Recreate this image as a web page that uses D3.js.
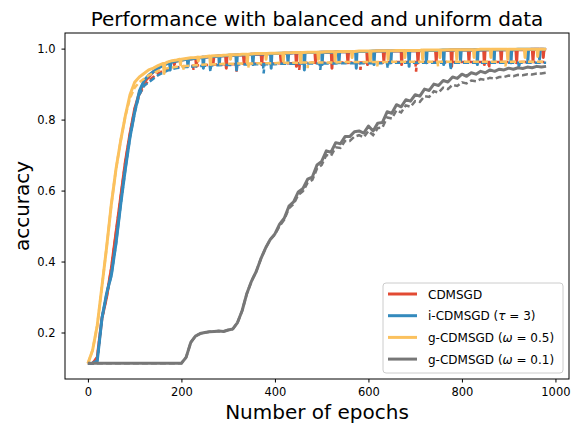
<!DOCTYPE html>
<html>
<head>
<meta charset="utf-8">
<script src="https://cdn.jsdelivr.net/npm/d3@7"></script>
<style>
  body { margin: 0; background: #fff; }
  svg text { font-family: "DejaVu Sans", sans-serif; fill: #000; }
</style>
</head>
<body>
<div id="chart"></div>
<script>
// epochs sampled every 10
var epochs = d3.range(0, 990, 10);

// training accuracy (solid lines)
var cdmsgdTrain = [0.113,0.113,0.13,0.24,0.30,0.38,0.48,0.58,0.68,0.76,
  0.83,0.875,0.905,0.92,0.935,0.945,0.955,0.96,0.963,0.965,
  0.968,0.970,0.971,0.973,0.975,0.976,0.977,0.978,0.979,0.980,
  0.980,0.981,0.982,0.982,0.983,0.984,0.984,0.985,0.985,0.986,
  0.986,0.986,0.987,0.987,0.988,0.988,0.988,0.989,0.989,0.989,
  0.990,0.990,0.990,0.991,0.991,0.991,0.991,0.992,0.992,0.992,
  0.992,0.992,0.993,0.993,0.993,0.993,0.993,0.994,0.994,0.994,
  0.994,0.994,0.995,0.995,0.995,0.995,0.995,0.995,0.996,0.996,
  0.996,0.996,0.996,0.996,0.996,0.997,0.997,0.997,0.997,0.997,
  0.997,0.997,0.997,0.997,0.997,0.998,0.998,0.998,0.996];
var iTrain = [0.113,0.113,0.12,0.24,0.31,0.36,0.45,0.56,0.66,0.75,
  0.82,0.88,0.91,0.925,0.935,0.945,0.952,0.958,0.962,0.965,
  0.967,0.970,0.971,0.973,0.974,0.976,0.977,0.978,0.979,0.980,
  0.981,0.981,0.982,0.983,0.983,0.984,0.985,0.985,0.985,0.986,
  0.986,0.987,0.987,0.987,0.988,0.988,0.988,0.989,0.989,0.989,
  0.990,0.990,0.990,0.990,0.991,0.991,0.991,0.992,0.992,0.992,
  0.992,0.993,0.993,0.993,0.993,0.993,0.994,0.994,0.994,0.994,
  0.994,0.995,0.995,0.995,0.995,0.995,0.996,0.996,0.996,0.996,
  0.996,0.996,0.996,0.997,0.996,0.997,0.997,0.997,0.997,0.997,
  0.997,0.997,0.998,0.998,0.998,0.998,0.998,0.998,0.998];
var g05Train = [0.113,0.15,0.22,0.33,0.44,0.56,0.66,0.74,0.81,0.87,
  0.905,0.92,0.93,0.94,0.945,0.952,0.958,0.962,0.966,0.968,
  0.970,0.972,0.974,0.975,0.976,0.977,0.979,0.980,0.980,0.981,
  0.982,0.983,0.983,0.984,0.984,0.985,0.986,0.986,0.986,0.987,
  0.987,0.987,0.988,0.988,0.989,0.989,0.989,0.990,0.990,0.990,
  0.990,0.991,0.991,0.991,0.992,0.992,0.992,0.992,0.993,0.993,
  0.993,0.993,0.994,0.994,0.994,0.994,0.995,0.995,0.995,0.995,
  0.995,0.995,0.996,0.996,0.996,0.996,0.996,0.997,0.997,0.997,
  0.997,0.997,0.997,0.997,0.998,0.998,0.998,0.998,0.998,0.998,
  0.998,0.998,0.998,0.998,0.998,0.998,0.998,0.998,0.998];
var g01Train = [0.1135,0.1135,0.1135,0.1135,0.1135,0.1135,0.1135,0.1135,0.1135,0.1135,
  0.1135,0.1135,0.1135,0.1135,0.1135,0.1135,0.1135,0.1135,0.1135,0.1135,
  0.1135,0.13,0.172,0.19,0.197,0.200,0.202,0.203,0.204,0.203,
  0.207,0.210,0.228,0.262,0.310,0.345,0.372,0.408,0.438,0.462,
  0.478,0.505,0.522,0.556,0.568,0.596,0.606,0.632,0.638,0.672,
  0.682,0.712,0.708,0.735,0.732,0.752,0.752,0.766,0.768,0.762,
  0.782,0.768,0.790,0.792,0.822,0.818,0.842,0.836,0.856,0.852,
  0.870,0.866,0.886,0.882,0.900,0.896,0.910,0.906,0.920,0.916,
  0.928,0.922,0.932,0.928,0.936,0.932,0.940,0.936,0.942,0.940,
  0.945,0.942,0.946,0.944,0.948,0.946,0.950,0.948,0.950];

// test accuracy (dashed lines)
var cdmsgdTest = [0.113,0.113,0.13,0.24,0.30,0.38,0.48,0.58,0.68,0.76,
  0.83,0.87,0.895,0.91,0.92,0.93,0.937,0.942,0.945,0.947,
  0.949,0.950,0.951,0.952,0.953,0.954,0.954,0.955,0.955,0.956,
  0.956,0.956,0.957,0.957,0.957,0.957,0.958,0.958,0.958,0.958,
  0.958,0.959,0.959,0.959,0.959,0.959,0.960,0.960,0.960,0.960,
  0.960,0.960,0.960,0.960,0.961,0.961,0.961,0.961,0.961,0.961,
  0.961,0.961,0.961,0.961,0.961,0.962,0.962,0.962,0.962,0.962,
  0.962,0.962,0.962,0.962,0.962,0.962,0.962,0.962,0.962,0.962,
  0.962,0.962,0.962,0.962,0.962,0.962,0.962,0.962,0.962,0.962,
  0.962,0.962,0.962,0.962,0.962,0.962,0.962,0.962,0.962];
var iTest = [0.113,0.113,0.12,0.24,0.31,0.36,0.45,0.56,0.66,0.75,
  0.82,0.87,0.895,0.905,0.915,0.925,0.932,0.938,0.942,0.945,
  0.947,0.948,0.949,0.950,0.951,0.952,0.952,0.953,0.953,0.954,
  0.954,0.954,0.955,0.955,0.955,0.955,0.956,0.956,0.956,0.956,
  0.956,0.957,0.957,0.957,0.957,0.957,0.958,0.958,0.958,0.958,
  0.958,0.958,0.958,0.958,0.959,0.959,0.959,0.959,0.959,0.959,
  0.959,0.959,0.959,0.959,0.959,0.960,0.960,0.960,0.960,0.960,
  0.960,0.960,0.960,0.960,0.960,0.960,0.960,0.960,0.960,0.960,
  0.960,0.960,0.960,0.960,0.960,0.960,0.960,0.960,0.960,0.960,
  0.960,0.960,0.960,0.960,0.960,0.960,0.960,0.960,0.960];
var g05Test = [0.113,0.15,0.22,0.33,0.44,0.56,0.66,0.74,0.81,0.86,
  0.89,0.905,0.915,0.925,0.93,0.937,0.942,0.945,0.947,0.949,
  0.950,0.951,0.952,0.953,0.954,0.955,0.955,0.956,0.956,0.957,
  0.957,0.957,0.958,0.958,0.958,0.958,0.959,0.959,0.959,0.959,
  0.959,0.960,0.960,0.960,0.960,0.960,0.961,0.961,0.961,0.961,
  0.961,0.961,0.961,0.961,0.962,0.962,0.962,0.962,0.962,0.962,
  0.962,0.962,0.962,0.962,0.962,0.963,0.963,0.963,0.963,0.963,
  0.963,0.963,0.963,0.963,0.963,0.963,0.963,0.963,0.963,0.963,
  0.963,0.963,0.963,0.963,0.963,0.963,0.963,0.963,0.963,0.963,
  0.963,0.963,0.963,0.963,0.963,0.963,0.963,0.963,0.963];
var g01Test = [0.1135,0.1135,0.1135,0.1135,0.1135,0.1135,0.1135,0.1135,0.1135,0.1135,
  0.1135,0.1135,0.1135,0.1135,0.1135,0.1135,0.1135,0.1135,0.1135,0.1135,
  0.1135,0.13,0.172,0.19,0.197,0.200,0.202,0.203,0.204,0.203,
  0.207,0.210,0.228,0.262,0.310,0.345,0.372,0.408,0.438,0.462,
  0.476,0.500,0.518,0.550,0.562,0.588,0.598,0.622,0.630,0.662,
  0.672,0.700,0.698,0.722,0.720,0.740,0.740,0.752,0.756,0.750,
  0.768,0.756,0.776,0.778,0.806,0.803,0.826,0.820,0.840,0.836,
  0.852,0.850,0.866,0.864,0.880,0.876,0.890,0.886,0.898,0.895,
  0.905,0.902,0.910,0.908,0.914,0.912,0.918,0.915,0.920,0.920,
  0.924,0.922,0.926,0.925,0.928,0.927,0.930,0.930,0.932];

// sharp single-epoch drops: [epoch, accuracy]
var cdmsgdTrainDips = [[185,0.955],[232,0.95],[268,0.96],[296,0.945],[334,0.96],[372,0.955],[413,0.965],[446,0.95],
  [487,0.96],[522,0.945],[556,0.96],[598,0.955],[633,0.965],[671,0.955],[706,0.96],[745,0.965],[778,0.95],
  [815,0.965],[848,0.955],[884,0.965],[917,0.96],[952,0.965],[974,0.975]];
var iTrainDips = [[176,0.94],[214,0.95],[247,0.945],[281,0.955],[318,0.94],[353,0.955],[392,0.945],[428,0.96],
  [463,0.94],[501,0.955],[537,0.96],[574,0.945],[612,0.955],[648,0.96],[687,0.95],[724,0.96],[761,0.955],
  [797,0.965],[833,0.955],[869,0.965],[905,0.96],[941,0.965],[966,0.97]];
var g05TrainDips = [[163,0.93],[198,0.955],[236,0.965],[262,0.955],[305,0.97],[341,0.96],[381,0.97],[418,0.965],
  [455,0.96],[493,0.97],[529,0.965],[565,0.975],[604,0.965],[642,0.97],[678,0.975],[716,0.97],[753,0.975],
  [789,0.97],[826,0.975],[862,0.975],[898,0.97],[935,0.975],[962,0.978]];
var cdmsgdTestDips = [[226,0.94],[318,0.935],[452,0.94],[583,0.94],[702,0.935],[858,0.945]];
var iTestDips = [[262,0.935],[376,0.93],[497,0.94],[641,0.945],[776,0.94],[922,0.945]];
var g05TestDips = [[205,0.94],[344,0.945],[470,0.945],[619,0.95],[749,0.95],[893,0.95]];

var seriesNames = ["CDMSGD", "i-CDMSGD", "g-CDMSGD", "g-CDMSGD"];
var seriesColors = ["#E24A33", "#348ABD", "#FBC15E", "#777777"];
var xTicks = [0, 200, 400, 600, 800, 1000];
var yTicks = [0.2, 0.4, 0.6, 0.8, 1.0];

var width = 581, height = 423;
var margin = { top: 33, right: 12, bottom: 44, left: 65 };
var innerW = width - margin.left - margin.right;
var innerH = height - margin.top - margin.bottom;

var svg = d3.select("#chart").append("svg")
    .attr("width", width)
    .attr("height", height);

var g = svg.append("g")
    .attr("transform", "translate(" + margin.left + "," + margin.top + ")");

var x = d3.scaleLinear().domain([-49, 1029]).range([0, innerW]);
var y = d3.scaleLinear().domain([0.069, 1.044]).range([innerH, 0]);

// merge the sampled curve with its drops
function buildPoints(vals, dips) {
    var pts = epochs.map(function (e, i) { return [e, vals[i]]; });
    (dips || []).forEach(function (d) {
        var base = vals[Math.round(d[0] / 10)];
        pts.push([d[0] - 1.5, base], [d[0], d[1]], [d[0] + 1.5, base]);
    });
    pts.sort(function (a, b) { return a[0] - b[0]; });
    return pts;
}

var trains = [cdmsgdTrain, iTrain, g05Train, g01Train];
var trainDips = [cdmsgdTrainDips, iTrainDips, g05TrainDips, null];
var tests = [cdmsgdTest, iTest, g05Test, g01Test];
var testDips = [cdmsgdTestDips, iTestDips, g05TestDips, null];

var line = d3.line()
    .x(function (d) { return x(d[0]); })
    .y(function (d) { return y(d[1]); });

var plot = g.append("g");
for (var k = 0; k < 4; k++) {
    plot.append("path")
        .datum(buildPoints(trains[k], trainDips[k]))
        .attr("d", line)
        .attr("fill", "none")
        .attr("stroke", seriesColors[k])
        .attr("stroke-width", 3)
        .attr("stroke-linejoin", "round");
    plot.append("path")
        .datum(buildPoints(tests[k], testDips[k]))
        .attr("d", line)
        .attr("fill", "none")
        .attr("stroke", seriesColors[k])
        .attr("stroke-width", 2.5)
        .attr("stroke-dasharray", "6,3");
}

// axes
var xAxis = d3.axisBottom(x).tickValues(xTicks).tickSize(3.5).tickPadding(5)
    .tickFormat(d3.format("d"));
var yAxis = d3.axisLeft(y).tickValues(yTicks).tickSize(3.5).tickPadding(6)
    .tickFormat(d3.format(".1f"));

g.append("g")
    .attr("transform", "translate(0," + innerH + ")")
    .call(xAxis)
    .call(function (s) { s.select(".domain").remove(); })
    .selectAll("text").style("font-size", "11.5px");

g.append("g")
    .call(yAxis)
    .call(function (s) { s.select(".domain").remove(); })
    .selectAll("text").style("font-size", "11.5px");

g.append("rect")
    .attr("width", innerW)
    .attr("height", innerH)
    .attr("fill", "none")
    .attr("stroke", "#000")
    .attr("stroke-width", 1);

svg.append("text")
    .attr("x", margin.left + innerW / 2)
    .attr("y", 26)
    .attr("text-anchor", "middle")
    .style("font-size", "20px")
    .text("Performance with balanced and uniform data");

svg.append("text")
    .attr("x", margin.left + innerW / 2)
    .attr("y", 419)
    .attr("text-anchor", "middle")
    .style("font-size", "20px")
    .text("Number of epochs");

svg.append("text")
    .attr("transform", "translate(29," + (margin.top + innerH / 2) + ") rotate(-90)")
    .attr("text-anchor", "middle")
    .style("font-size", "20px")
    .text("accuracy");

// legend
var legend = svg.append("g").attr("transform", "translate(383,283)");
legend.append("rect")
    .attr("width", 180)
    .attr("height", 90)
    .attr("rx", 3)
    .attr("fill", "#fff")
    .attr("fill-opacity", 0.8)
    .attr("stroke", "#ccc");

var params = [null, ["\u03C4", " = 3)"], ["\u03C9", " = 0.5)"], ["\u03C9", " = 0.1)"]];
for (var j = 0; j < 4; j++) {
    var ly = 11 + j * 21.7;
    legend.append("line")
        .attr("x1", 5).attr("x2", 34)
        .attr("y1", ly).attr("y2", ly)
        .attr("stroke", seriesColors[j])
        .attr("stroke-width", 3);
    var t = legend.append("text")
        .attr("x", 45)
        .attr("y", ly + 4.5)
        .style("font-size", "12px");
    t.append("tspan").text(seriesNames[j]);
    if (params[j]) {
        t.append("tspan").text(" (");
        t.append("tspan").style("font-style", "italic").text(params[j][0]);
        t.append("tspan").text(params[j][1]);
    }
}
</script>
</body>
</html>
